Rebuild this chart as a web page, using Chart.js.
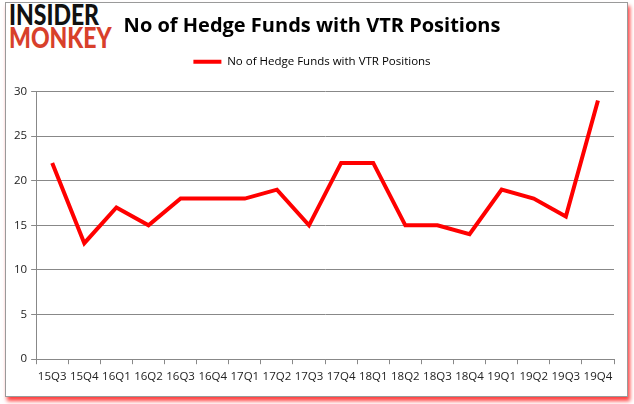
<!DOCTYPE html>
<html>
<head>
<meta charset="utf-8">
<script src="https://cdn.jsdelivr.net/npm/chart.js@4.4.1/dist/chart.umd.min.js"></script>
<style>
  html, body { margin: 0; padding: 0; background: #ffffff; }
  #wrap { position: relative; width: 634px; height: 404px; overflow: hidden; background: #fff; }
  #frame { position: absolute; left: 5px; top: 2px; width: 621px; height: 393px;
           border: 1px solid #9a9a9a; box-shadow: 2px 4px 4px rgba(255,0,0,0.75); background: #fff; }
  #logo { position: absolute; left: 9px; top: 3px; font-family: "Lato", "DejaVu Sans", sans-serif;
          font-weight: 900; line-height: 23px; }
  #logo span { display: block; font-size: 23px; transform: scale(1, 1.25); transform-origin: left center; }
  #logo .a { color: #111; }
  #logo .b { color: #d8402b; }
  canvas { position: absolute; left: 0; top: 0; }
</style>
</head>
<body>
<div id="wrap">
  <div id="frame"></div>
  <div id="logo"><span class="a">INSIDER</span><span class="b">MONKEY</span></div>
  <canvas id="c" width="634" height="404"></canvas>
</div>
<script>
const categories = ["15Q3","15Q4","16Q1","16Q2","16Q3","16Q4","17Q1","17Q2","17Q3","17Q4","18Q1","18Q2","18Q3","18Q4","19Q1","19Q2","19Q3","19Q4"];
const hedgeFunds = [22,13,17,15,18,18,18,19,15,22,22,15,15,14,19,18,16,29];
const seriesName = "No of Hedge Funds with VTR Positions";
const titleText = "No of Hedge Funds with VTR Positions";
const yTicks = [0,5,10,15,20,25,30];

const legendGap = {
  id: 'legendGap',
  beforeLayout(chart) {
    const lg = chart.legend;
    if (!lg || lg._gapPatched) return;
    const fit = lg.fit;
    lg.fit = function () { fit.call(this); this.height += 14; };
    lg._gapPatched = true;
  }
};

new Chart(document.getElementById('c'), {
  type: 'line',
  data: {
    labels: categories,
    datasets: [{
      label: seriesName,
      data: hedgeFunds,
      borderColor: '#ff0000',
      backgroundColor: '#ff0000',
      borderWidth: 4,
      pointRadius: 0,
      tension: 0,
      fill: false
    }]
  },
  plugins: [legendGap],
  options: {
    responsive: false,
    animation: false,
    layout: { padding: { left: 10, right: 20, top: 10, bottom: 14 } },
    plugins: {
      title: {
        display: true,
        text: titleText,
        color: '#000',
        font: { family: 'Open Sans', size: 20, weight: 'bold' },
        padding: { top: 4, bottom: 0 }
      },
      legend: {
        display: true,
        position: 'top',
        labels: {
          color: '#111',
          font: { family: 'Open Sans', size: 11.5 },
          boxWidth: 28,
          boxHeight: 4,
          padding: 18,
          generateLabels: (chart) => [{
            text: seriesName, fillStyle: '#ff0000', strokeStyle: '#ff0000', lineWidth: 0, hidden: false, datasetIndex: 0
          }]
        }
      },
      tooltip: { enabled: false }
    },
    scales: {
      x: {
        offset: true,
        grid: { display: true, drawOnChartArea: false, drawTicks: true, tickLength: 5, offset: true, color: '#888' },
        border: { display: true, color: '#888' },
        ticks: { color: '#222', font: { family: 'Open Sans', size: 11.5 }, maxRotation: 0, autoSkip: false, padding: 6 }
      },
      y: {
        min: 0, max: 30,
        afterBuildTicks: (axis) => { axis.ticks = yTicks.map(v => ({ value: v })); },
        grid: { color: '#888', tickLength: 5, drawTicks: true },
        border: { display: true, color: '#888' },
        ticks: { color: '#222', font: { family: 'Open Sans', size: 11.5 }, padding: 4 }
      }
    }
  }
});
</script>
</body>
</html>
